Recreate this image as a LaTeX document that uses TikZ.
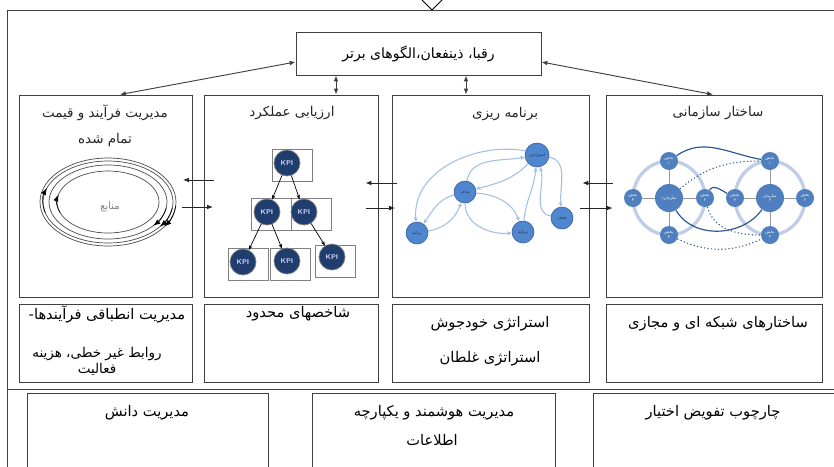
\documentclass[tikz,border=0pt]{standalone}
\usepackage{fontspec}
\newfontfamily\arabicfont[Script=Arabic]{DejaVu Sans}
\TeXXeTstate=1
\usetikzlibrary{fit,arrows.meta}
\newcommand{\fatext}[1]{{\arabicfont\beginR #1\endR}}
\definecolor{framegray}{HTML}{404040}
\definecolor{kpiblue}{HTML}{1F3E6E}
\definecolor{planfill}{HTML}{4E86D0}
\definecolor{planedge}{HTML}{A3BFE6}
\definecolor{orgfill}{HTML}{4F7FBE}
\definecolor{orgring}{HTML}{BFCEE6}
\definecolor{orgline}{HTML}{2C5594}
\tikzset{
	panel/.style={draw=framegray, line width=0.8pt, inner sep=0pt, fit={#1}},
	heading/.style={font=\fontsize{11.5}{13}\selectfont, text=black!85},
	cell/.style={font=\fontsize{12.5}{14}\selectfont, align=center},
	flow/.style={-{Latex[length=5pt,width=4pt]}, line width=0.7pt, draw=black!85},
	link/.style={{Latex[length=5pt,width=4pt]}-{Latex[length=5pt,width=4pt]}, line width=0.8pt, draw=framegray},
	ringline/.style={draw=black!70, line width=0.6pt},
	kpi/.style={circle, minimum size=0.78cm, inner sep=0pt, fill=kpiblue, draw=gray, line width=0.6pt, text=white!85!blue, font=\sffamily\bfseries\fontsize{6}{6}\selectfont},
	kpibox/.style={draw=gray, line width=0.7pt},
	kpiarrow/.style={-{Stealth[length=4pt,width=3pt]}, line width=0.6pt},
	plan/.style={circle, minimum size=0.66cm, inner sep=0pt, fill=planfill, draw=planfill!70!black, line width=0.5pt, text=black!80, font=\fontsize{3.5}{4}\selectfont},
	planarrow/.style={-{Stealth[length=4pt,width=3.5pt]}, draw=planedge, line width=0.9pt},
	unit/.style={circle, minimum size=0.54cm, inner sep=0pt, fill=orgfill, text=white, font=\fontsize{3.5}{4}\selectfont, align=center},
	hub/.style={unit, minimum size=0.84cm},
	spoke/.style={draw=gray!80, line width=0.7pt},
	ring/.style={draw=orgring, line width=2.8pt},
	tie/.style={draw=orgline, line width=1pt},
	dottie/.style={tie, dotted, line width=0.9pt},
}
\begin{document}
\begin{tikzpicture}[x=0.03cm, y=0.03cm]
	\useasboundingbox (0,0) rectangle (834,-466);
	\clip (0,0) rectangle (834,-466);
	\fill[white] (0,0) rectangle (834,-466);
	% frame and page mark
	\draw[framegray, line width=0.8pt] (7,-10) rectangle (850,-480);
	\draw[framegray, line width=0.8pt] (7,-389) -- (850,-389);
	\draw[black, line width=0.7pt] (422,0) -- (432,-10) -- (442,0);
	% top box
	\node[panel={(296,-32) (541,-75)}] (peer) {};
	\node[cell, font=\fontsize{12}{14}\selectfont] (peert) at (peer.center) {\fatext{رقبا، ذینفعان،الگوهای برتر}};
	% upper row
	\node[panel={(19,-95) (192,-297)}] (b1) {};
	\node[panel={(204,-95) (378,-297)}] (b2) {};
	\node[panel={(392,-95) (589,-297)}] (b3) {};
	\node[panel={(606,-95) (822,-297)}] (b4) {};
	\node[heading] (h1) at (105,-113) {\fatext{مدیریت فرآیند و قیمت}};
	\node[heading] (h1b) at (105,-140) {\fatext{تمام شده}};
	\node[heading] (h2) at (292,-113) {\fatext{ارزیابی عملکرد}};
	\node[heading] (h3) at (505,-114) {\fatext{برنامه ریزی}};
	\node[heading] (h4) at (718,-113) {\fatext{ساختار سازمانی}};
	% links to top box
	\draw[link] (peer.west |- 0,-62) -- (b1.north -| 120,0);
	\draw[link] (peer.east |- 0,-62) -- (b4.north -| 713,0);
	\draw[link] (peer.south -| 336,0) -- (b2.north -| 336,0);
	\draw[link] (peer.south -| 466,0) -- (b3.north -| 466,0);
	% arrows between boxes
	\draw[flow, shorten <=-9pt, shorten >=-8pt] (b2.west |- 0,-180) -- (b1.east |- 0,-180);
	\draw[flow, shorten <=-9pt, shorten >=-8pt] (b1.east |- 0,-207) -- (b2.west |- 0,-207);
	\draw[flow, shorten <=-5pt, shorten >=-11pt] (b3.west |- 0,-183) -- (b2.east |- 0,-183);
	\draw[flow, shorten <=-11pt, shorten >=-3pt] (b2.east |- 0,-208) -- (b3.west |- 0,-208);
	\draw[flow, shorten <=-6pt, shorten >=-6pt] (b4.west |- 0,-183) -- (b3.east |- 0,-183);
	\draw[flow, shorten <=-8pt, shorten >=-6pt] (b3.east |- 0,-208) -- (b4.west |- 0,-208);
	% resources cycle
	\coordinate (res) at (108,-202);
	\foreach \rx/\ry in {68/44, 65/41, 59/37, 51/31}
		\draw[ringline] (res) ellipse[x radius=\rx, y radius=\ry];
	\foreach \rx/\ry/\sa/\ea in {65/41/195/160, 51/31/200/166, 68/44/-5/-34, 65/41/-8/-37, 59/37/-10/-40}
		\draw[ringline, draw=black, -{Latex[length=6pt,width=4.5pt]}] ([shift={(res)}]\sa:\rx\space and \ry) arc[start angle=\sa, end angle=\ea, x radius=\rx, y radius=\ry];
	\node[text=gray, font=\fontsize{8.5}{10}\selectfont] (resl) at (110,-207) {\fatext{منابع}};
	% KPI tree
	\foreach \x/\y in {272/149, 251/198, 291/198, 228/248, 270/248, 315/245}
		\draw[kpibox] (\x,-\y) rectangle ++(40,-32);
	\node[kpi] (k1) at (287,-163) {KPI};
	\node[kpi] (k2) at (267,-212) {KPI};
	\node[kpi] (k3) at (304,-212) {KPI};
	\node[kpi] (k4) at (243,-262) {KPI};
	\node[kpi] (k5) at (287,-261) {KPI};
	\node[kpi] (k6) at (332,-257) {KPI};
	\draw[kpiarrow] (k1) -- (k2);
	\draw[kpiarrow] (k1) -- (k3);
	\draw[kpiarrow] (k2) -- (k4);
	\draw[kpiarrow] (k2) -- (k5);
	\draw[kpiarrow] (k3) -- (k6);
	% planning graph
	\node[plan, minimum size=0.72cm] (s) at (537,-155) {\fatext{استراتژی}};
	\node[plan] (g1) at (465,-192) {\fatext{هدف}};
	\node[plan] (p1) at (417,-233) {\fatext{برنامه}};
	\node[plan] (p2) at (523,-232) {\fatext{برنامه}};
	\node[plan] (g2) at (562,-218) {\fatext{هدف}};
	\draw[planarrow] (s.160) to[out=170, in=95] (p1);
	\draw[planarrow] (g1) to[out=80, in=190] (s);
	\draw[planarrow] (s) to[out=225, in=15] (g1);
	\draw[planarrow] (g1) to[out=195, in=55] (p1);
	\draw[planarrow] (p1) to[out=10, in=250] (g1);
	\draw[planarrow] (g1) to[out=-5, in=110] (p2);
	\draw[planarrow] (g1) to[out=270, in=185] (p2);
	\draw[planarrow] (p2) to[out=85, in=265] (s);
	\draw[planarrow] (s) to[out=-10, in=95] (g2);
	\draw[planarrow] (g2) to[out=170, in=285] (s);
	% organisation structure
	\coordinate (o1) at (669,-198);
	\coordinate (o2) at (770,-198);
	\draw[ring] (o1) ellipse[x radius=36, y radius=37];
	\draw[ring] (o2) ellipse[x radius=35, y radius=37];
	\node[hub] (c1) at (o1) {\fatext{سازمان۱}};
	\node[hub] (c2) at (o2) {\fatext{سازمان}\\\fatext{۲}};
	\foreach \a/\d/\n in {90/t/۱, 0/r/۲, 270/b/۳, 180/l/۴} {
		\node[unit] (s1\d) at ([shift={(o1)}]\a:36 and 37) {\fatext{بخش}\\\fatext{\n}};
		\node[unit] (s2\d) at ([shift={(o2)}]\a:35 and 37) {\fatext{بخش}\\\fatext{\n}};
		\draw[spoke] (c1) -- (s1\d);
		\draw[spoke] (c2) -- (s2\d);
	}
	\draw[tie] (s1t) to[out=35, in=170] (s2t);
	\draw[dottie] (c1) to[out=40, in=180] (s2t);
	\draw[tie] (s1r) to[out=60, in=150] (s2l);
	\draw[tie] (c1) to[out=-60, in=235] (c2);
	\draw[dottie] (s1r) to[out=-75, in=180] (s2b);
	\draw[dottie] (s1b) to[out=-25, in=205] (s2b);
	% lower row
	\node[panel={(19,-304) (192,-382)}] (r1) {};
	\node[panel={(204,-304) (378,-382)}] (r2) {};
	\node[panel={(392,-304) (589,-382)}] (r3) {};
	\node[panel={(606,-304) (822,-382)}] (r4) {};
	\node[cell] (r1a) at (107,-314) {\fatext{مدیریت انطباقی فرآیندها-}};
	\node[cell, font=\fontsize{11.5}{13.5}\selectfont] (r1b) at (97,-361) {\fatext{روابط غیر خطی، هزینه}\\\fatext{فعالیت}};
	\node[cell] (r2a) at (298,-314) {\fatext{شاخصهای محدود}};
	\node[cell] (r3a) at (490,-324) {\fatext{استراتژی خودجوش}};
	\node[cell] (r3b) at (490,-359) {\fatext{استراتژی غلطان}};
	\node[cell] (r4a) at (718,-324) {\fatext{ساختارهای شبکه ای و مجازی}};
	% bottom section
	\node[panel={(27,-393) (268,-480)}] (d1) {};
	\node[panel={(312,-393) (555,-480)}] (d2) {};
	\node[panel={(593,-393) (850,-480)}] (d3) {};
	\node[cell] (d1a) at (147,-413) {\fatext{مدیریت دانش}};
	\node[cell] (d2a) at (434,-413) {\fatext{مدیریت هوشمند و یکپارچه}};
	\node[cell] (d2b) at (432,-440) {\fatext{اطلاعات}};
	\node[cell] (d3a) at (713,-413) {\fatext{چارچوب تفویض اختیار}};
\end{tikzpicture}
\end{document}
